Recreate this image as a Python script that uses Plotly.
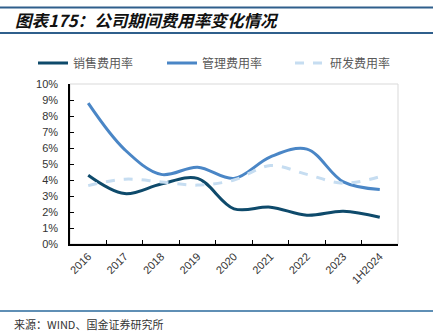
import plotly.graph_objects as go

categories = ["2016", "2017", "2018", "2019", "2020", "2021", "2022", "2023", "1H2024"]
sales_rate = [4.3, 3.15, 3.75, 4.1, 2.2, 2.3, 1.8, 2.05, 1.67]
mgmt_rate = [8.8, 5.9, 4.35, 4.8, 4.1, 5.45, 5.93, 3.88, 3.4]
rd_rate = [3.65, 4.05, 3.88, 3.68, 4.0, 4.9, 4.35, 3.8, 4.2]
series_names = ["销售费用率", "管理费用率", "研发费用率"]
y_ticks = list(range(0, 11))
y_tick_labels = [f"{v}%" for v in y_ticks]

W, H = 433, 335
L, R, T, B = 70, 35, 84, 91
PW, PH = W - L - R, H - T - B


def px_x(x):
    return (x - L) / PW


def px_y(y):
    return (H - B - y) / PH


fig = go.Figure()
fig.add_trace(go.Scatter(x=categories, y=sales_rate, name=series_names[0], mode="lines", legend="legend",
                         line=dict(color="#0E4A6B", width=3, shape="spline", smoothing=1.0)))
fig.add_trace(go.Scatter(x=categories, y=mgmt_rate, name=series_names[1], mode="lines", legend="legend2",
                         line=dict(color="#4A86C6", width=3, shape="spline", smoothing=1.0)))
fig.add_trace(go.Scatter(x=categories, y=rd_rate, name=series_names[2], mode="lines", legend="legend3",
                         line=dict(color="#C6DDF1", width=3, dash="dash", shape="spline", smoothing=1.0)))

font_main = "Liberation Sans, Arial, Noto Sans CJK SC, sans-serif"
leg_font = dict(family="Noto Sans CJK SC, sans-serif", size=12, color="#595959")


def leg(xpx):
    return dict(orientation="h", x=px_x(xpx), y=px_y(63), xanchor="left", yanchor="middle",
                font=leg_font, bgcolor="rgba(0,0,0,0)")


fig.update_layout(
    width=W, height=H,
    margin=dict(l=L, r=R, t=T, b=B, pad=0),
    paper_bgcolor="white", plot_bgcolor="white",
    font=dict(family=font_main, size=11, color="#333333"),
    showlegend=True,
    legend=leg(33),
    legend2=leg(162),
    legend3=leg(290),
    xaxis=dict(type="category", range=[-0.5, len(categories) - 0.5], tickson="boundaries",
               ticks="inside", ticklen=4,
               tickcolor="black", showline=True, linecolor="black", linewidth=1.5,
               showgrid=False, tickangle=-45, zeroline=False,
               tickfont=dict(family=font_main, size=11, color="#333333")),
    yaxis=dict(range=[0, 10], tickvals=y_ticks, ticktext=y_tick_labels, ticks="inside", ticklen=4,
               tickcolor="black", showline=True, linecolor="black", linewidth=1.5,
               showgrid=False, zeroline=False, ticklabelstandoff=8,
               tickfont=dict(family=font_main, size=11, color="#333333")),
    shapes=[
        dict(type="rect", xref="paper", yref="paper", x0=0, x1=1, y0=0, y1=1,
             line=dict(color="#D9D9D9", width=1), layer="below"),
        dict(type="line", xref="paper", yref="paper", x0=px_x(0), x1=px_x(433), y0=px_y(7.5), y1=px_y(7.5),
             line=dict(color="#2F5F8C", width=2)),
        dict(type="line", xref="paper", yref="paper", x0=px_x(0), x1=px_x(433), y0=px_y(33), y1=px_y(33),
             line=dict(color="#2F5F8C", width=2)),
        dict(type="line", xref="paper", yref="paper", x0=px_x(0), x1=px_x(433), y0=px_y(311), y1=px_y(311),
             line=dict(color="#5F8FB5", width=2)),
    ],
    annotations=[
        dict(text="<i><b>图表175：公司期间费用率变化情况</b></i>", xref="paper", yref="paper",
             x=px_x(13), y=px_y(20), xanchor="left", yanchor="middle", showarrow=False,
             font=dict(family="Noto Sans CJK SC, sans-serif", size=16.6, color="#111111")),
        dict(text="来源：WIND、国金证券研究所", xref="paper", yref="paper",
             x=px_x(12), y=px_y(324), xanchor="left", yanchor="middle", showarrow=False,
             font=dict(family="Noto Sans CJK SC, sans-serif", size=11, color="#333333")),
    ],
)

fig.write_html("out.html")
